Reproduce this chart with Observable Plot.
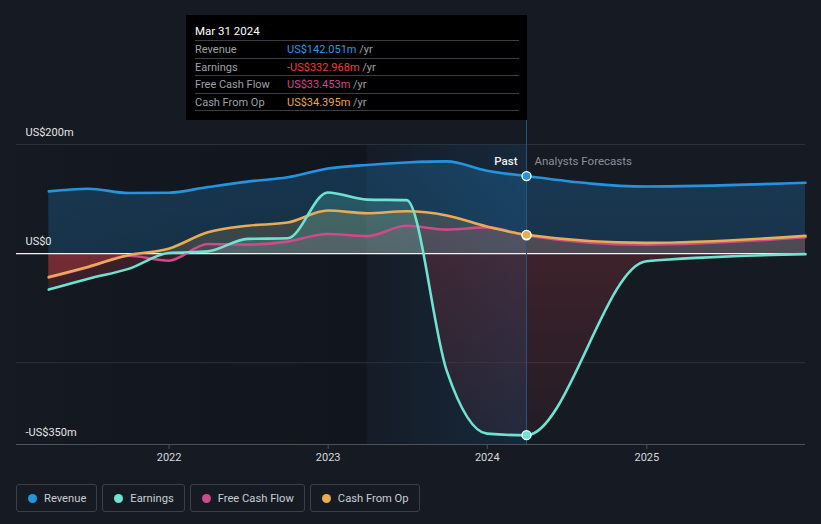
<!DOCTYPE html>
<html><head><meta charset="utf-8">
<script src="https://cdn.jsdelivr.net/npm/d3@7"></script>
<script src="https://cdn.jsdelivr.net/npm/@observablehq/plot@0.6"></script>
<style>
html,body{margin:0;padding:0;background:#151a23;}
body{width:821px;height:524px;overflow:hidden;position:relative;font-family:Roboto,"Open Sans",sans-serif;}
#chart svg{display:block;}
#tip{position:absolute;left:186px;top:15px;width:341px;height:105px;background:#000;box-sizing:border-box;padding:0 8px 0 9px;color:#fff;}
#tip .hd{height:26px;box-sizing:border-box;padding-top:9px;font-size:11.5px;border-bottom:1px solid #3a3d43;}
#tip .row{height:17.5px;box-sizing:border-box;line-height:17px;border-bottom:1px solid #3a3d43;display:flex;font-size:11px;}
#tip .lab{width:92px;color:#9ea2a9;}
#tip .unit{color:#9ea2a9;}
#legend{position:absolute;left:16px;top:484px;display:flex;gap:5px;}
#legend .item{height:28px;box-sizing:border-box;border:1px solid #3a3f48;border-radius:3px;display:flex;align-items:center;padding:0 10px 0 11px;font-size:11.2px;color:#c9cdd3;}
#legend .dot{width:9px;height:9px;border-radius:50%;margin-right:7px;}
</style></head>
<body>
<div id="chart"></div>
<div id="tip"></div>
<div id="legend"></div>
<script>
// ---- data (US$ millions) ----
const dates = ["2021-03-31","2021-06-30","2021-09-30","2021-12-31","2022-03-31","2022-06-30","2022-09-30","2022-12-31","2023-03-31","2023-06-30","2023-09-30","2023-12-31","2024-03-31","2024-12-31","2025-12-31"];
const revenue  = [114, 119, 111, 111.5, 122, 132, 140, 156, 162.5, 167, 169, 152, 142.051, 123, 130];
const earnings = [-66, -46, -28, 1, 4, 27, 28, 112, 99, 98, -215, -330, -332.968, -14, -1];
const fcf      = [-44, -25, -4, -13, 17.7, 16.5, 22, 36, 32, 51, 44, 48, 33.453, 16.5, 30];
const cfo      = [-43, -24, -3, 9, 39, 51, 57, 79, 74, 77.6, 70, 49.5, 34.395, 19.6, 32.4];
const seriesNames = ["Revenue","Earnings","Free Cash Flow","Cash From Op"];
const seriesColors = ["#2394df","#6ee3d2","#cc4b8b","#e8ac55"];
const valueColors = ["#2b9be8","#f23c3c","#d4478d","#eaa94a"];
const xTicks = ["2022-01-01","2023-01-01","2024-01-01","2025-01-01"];
const yTicks = [200, 0, -350];
const gridTicks = [200, -200];
const xDomain = ["2021-01-16","2025-12-31"];
const pastStart = "2023-03-31";
const nowDate = "2024-03-31";
const tipTitle = "Mar 31 2024";

const parse = d3.utcParse("%Y-%m-%d");
const keys = ["revenue","earnings","fcf","cfo"];
const rows = dates.map((d, i) => ({date: parse(d), revenue: revenue[i], earnings: earnings[i], fcf: fcf[i], cfo: cfo[i]}));
const now = parse(nowDate);
const nowRow = rows.find(r => +r.date === +now);
const fmtY = v => v === 0 ? "US$0" : (v < 0 ? "-" : "") + "US$" + Math.abs(v) + "m";

const drawOrder = [0, 2, 3, 1];
const marks = [
  Plot.rect([0], {x1: () => parse(xDomain[0]), x2: () => parse(pastStart), fill: "url(#pastShade)"}),
  Plot.rect([0], {x1: () => parse(pastStart), x2: () => now, fill: "url(#bandShade)"}),
  Plot.gridY(gridTicks, {stroke: "#2c313a", strokeOpacity: 1}),
  ...drawOrder.map(i => Plot.areaY(rows, {x: "date", y1: 0, y2: keys[i], curve: "monotone-x", fill: `url(#g-${keys[i]})`})),
  Plot.ruleY([0], {stroke: "#f2f2f2", strokeWidth: 1.2}),
  Plot.ruleY([-350], {stroke: "#4a4f58"}),
  ...drawOrder.map(i => Plot.lineY(rows, {x: "date", y: keys[i], curve: "monotone-x", stroke: seriesColors[i], strokeWidth: 2.6})),
  Plot.ruleX([now], {stroke: "#2a5580", strokeWidth: 1, insetTop: -24}),
  ...drawOrder.map(i => Plot.dot([nowRow], {x: "date", y: keys[i], r: 4.5, fill: seriesColors[i], stroke: "#fff", strokeWidth: 1.3})),
  Plot.text(["Past"], {x: () => now, frameAnchor: "top", dx: -9, dy: 12, textAnchor: "end", fill: "#f0f0f0", fontSize: 11.5, fontWeight: 500}),
  Plot.text(["Analysts Forecasts"], {x: () => now, frameAnchor: "top", dx: 8, dy: 12, textAnchor: "start", fill: "#8b9099", fontSize: 11.5}),
  Plot.axisX({ticks: xTicks.map(parse), tickFormat: d => String(d.getUTCFullYear()), tickSize: 5, stroke: "#4a4f58", fill: "#d6d9de", fontSize: 11}),
  Plot.text(yTicks, {y: d => d, text: fmtY, frameAnchor: "left", dx: 9, dy: -12, textAnchor: "start", fill: "#e6e6e6", fontSize: 11})
];

const chart = Plot.plot({
  width: 821, height: 470,
  marginLeft: 16, marginRight: 16, marginTop: 144, marginBottom: 26,
  x: {type: "utc", domain: xDomain.map(parse)},
  y: {domain: [-350, 200], axis: null},
  style: {fontFamily: "Roboto, sans-serif", fontSize: "11px", background: "transparent", color: "#e6e6e6", overflow: "visible"},
  marks
});

// gradients derived from the plot's own y scale
const ys = chart.scale("y");
const yTop = ys.apply(200), yBot = ys.apply(-350), y0 = ys.apply(0);
const z = (y0 - yTop) / (yBot - yTop);
const ns = "http://www.w3.org/2000/svg";
const defs = document.createElementNS(ns, "defs");
function grad(id, attrs, stops) {
  const g = document.createElementNS(ns, "linearGradient");
  g.setAttribute("id", id);
  for (const [k, v] of Object.entries(attrs)) g.setAttribute(k, v);
  for (const [o, c, a] of stops) {
    const s = document.createElementNS(ns, "stop");
    s.setAttribute("offset", o); s.setAttribute("stop-color", c); s.setAttribute("stop-opacity", a);
    g.appendChild(s);
  }
  defs.appendChild(g);
}
const red = "#e0404a";
const topA = [0.26, 0.22, 0.16, 0.2];
const redA = [0.2, 0.2, 0.18, 0.2];
keys.forEach((k, i) => grad("g-" + k, {gradientUnits: "userSpaceOnUse", x1: 0, x2: 0, y1: yTop, y2: yBot}, [
  [0, seriesColors[i], topA[i]], [z, seriesColors[i], topA[i] * 0.8], [z, red, redA[i]], [1, red, redA[i] * 0.3]
]));
grad("pastShade", {x1: 0, x2: 1, y1: 0, y2: 0}, [[0, "#000", 0.03], [1, "#000", 0.2]]);
grad("bandShade", {x1: 0, x2: 1, y1: 0, y2: 0}, [[0, "#1b78c4", 0.02], [1, "#1b78c4", 0.16]]);
chart.insertBefore(defs, chart.firstChild);
document.getElementById("chart").appendChild(chart);

// tooltip
const fmtV = v => (v < 0 ? "-" : "") + "US$" + Math.abs(v).toFixed(3) + "m";
const tip = document.getElementById("tip");
tip.innerHTML = `<div class="hd">${tipTitle}</div>` + keys.map((k, i) =>
  `<div class="row"><span class="lab">${seriesNames[i]}</span><span style="color:${valueColors[i]}">${fmtV(nowRow[k])}</span><span class="unit">&nbsp;/yr</span></div>`).join("");

// legend
document.getElementById("legend").innerHTML = seriesNames.map((n, i) =>
  `<div class="item"><span class="dot" style="background:${seriesColors[i]}"></span>${n}</div>`).join("");
</script>
</body></html>
